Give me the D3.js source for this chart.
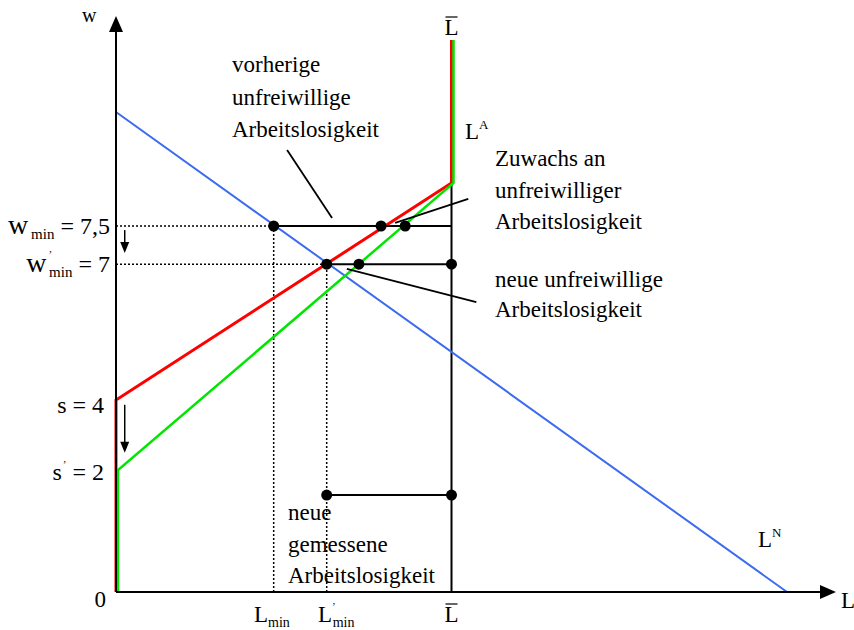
<!DOCTYPE html>
<html>
<head>
<meta charset="utf-8">
<script src="https://cdn.jsdelivr.net/npm/d3@7"></script>
<style>
  body { margin: 0; background: #fff; }
</style>
</head>
<body>
<div id="chart"></div>
<script>
// diagram units (schematic, not to scale of the labelled values)
var axisEnd = { x: 10.73, y: 12.0 }
var lnCurve = [[0, 10], [10, 0]]
var laOld = [[0, 0], [0, 4], [5, 8.52], [5, 11.5]]
var laNew = [[0.03, 0], [0.03, 2.54], [5.03, 8.52], [5.03, 11.5]]
var lBar = 5
var kinkW = 8.52
var lMin = 2.35
var lMinNew = 3.14
var wMin = 7.625
var wMinNew = 6.83
var wMeasured = 2.02

var gapSegments = [
  [lMin, lBar, wMin],
  [lMinNew, lBar, wMinNew],
  [lMinNew, lBar, wMeasured]
]
var dots = [
  [2.35, 7.625], [3.95, 7.625], [4.31, 7.625],
  [3.14, 6.83], [3.62, 6.83], [5, 6.83],
  [3.14, 2.02], [5, 2.02]
]
var leaders = [
  [[2.55, 9.21], [3.22, 7.79]],
  [[5.25, 8.19], [4.16, 7.69]],
  [[3.44, 6.73], [5.37, 6.04]]
]
var shiftArrows = [
  [0.13, 7.54, 7.06],
  [0.13, 3.9, 2.9]
]

var width = 854
var height = 630
var serif = 'Liberation Serif'

var x = d3.scaleLinear().domain([0, 10]).range([116, 787])
var y = d3.scaleLinear().domain([0, 10]).range([592, 112])

var svg = d3.select('#chart').append('svg')
  .attr('width', width)
  .attr('height', height)
  .attr('font-family', serif)
  .style('display', 'block')

var line = d3.line()
  .x(function (d) { return x(d[0]) })
  .y(function (d) { return y(d[1]) })

// dotted guides
var dotted = svg.append('g')
  .attr('stroke', '#000')
  .attr('stroke-width', 1.5)
  .attr('stroke-dasharray', '2,2')
  .attr('fill', 'none')
dotted.append('path').attr('d', line([[0, wMin], [lMin, wMin]]))
dotted.append('path').attr('d', line([[0, wMinNew], [lMinNew, wMinNew]]))
dotted.append('path').attr('d', line([[lMin, 0], [lMin, wMin]]))
dotted.append('path').attr('d', line([[lMinNew, 0], [lMinNew, wMinNew]]))

// L-bar vertical below the kink
svg.append('path')
  .attr('d', line([[lBar, 0], [lBar, kinkW]]))
  .attr('stroke', '#000')
  .attr('stroke-width', 2)

// curves
svg.append('path')
  .attr('d', line(lnCurve))
  .attr('stroke', '#3b6cf0')
  .attr('stroke-width', 2)
  .attr('fill', 'none')

svg.append('path')
  .attr('d', line(laOld))
  .attr('stroke', '#ff0000')
  .attr('stroke-width', 3)
  .attr('fill', 'none')

svg.append('path')
  .attr('d', line(laNew))
  .attr('stroke', '#00e600')
  .attr('stroke-width', 2.5)
  .attr('fill', 'none')

// unemployment segments
svg.append('g').selectAll('line')
  .data(gapSegments)
  .enter().append('line')
  .attr('x1', function (d) { return x(d[0]) })
  .attr('x2', function (d) { return x(d[1]) })
  .attr('y1', function (d) { return y(d[2]) })
  .attr('y2', function (d) { return y(d[2]) })
  .attr('stroke', '#000')
  .attr('stroke-width', 2)

// leader lines
svg.append('g').selectAll('path')
  .data(leaders)
  .enter().append('path')
  .attr('d', function (d) { return line(d) })
  .attr('stroke', '#000')
  .attr('stroke-width', 1.8)

svg.append('g').selectAll('circle')
  .data(dots)
  .enter().append('circle')
  .attr('cx', function (d) { return x(d[0]) })
  .attr('cy', function (d) { return y(d[1]) })
  .attr('r', 5.5)
  .attr('fill', '#000')

// axes with arrow heads
var x0 = x(0)
var y0 = y(0)
svg.append('line')
  .attr('x1', x0).attr('y1', y0)
  .attr('x2', x(axisEnd.x) - 14).attr('y2', y0)
  .attr('stroke', '#000').attr('stroke-width', 2)
svg.append('line')
  .attr('x1', x0).attr('y1', y0)
  .attr('x2', x0).attr('y2', y(axisEnd.y) + 14)
  .attr('stroke', '#000').attr('stroke-width', 2)

var xe = x(axisEnd.x)
var ye = y(axisEnd.y)
svg.append('path')
  .attr('d', 'M' + xe + ',' + y0 + 'L' + (xe - 16) + ',' + (y0 - 7) + 'L' + (xe - 16) + ',' + (y0 + 7) + 'Z')
  .attr('fill', '#000')
svg.append('path')
  .attr('d', 'M' + x0 + ',' + ye + 'L' + (x0 - 7) + ',' + (ye + 16) + 'L' + (x0 + 7) + ',' + (ye + 16) + 'Z')
  .attr('fill', '#000')

// small shift arrows
shiftArrows.forEach(function (a) {
  var ax = x(a[0])
  var top = y(a[1])
  var bot = y(a[2])
  svg.append('line')
    .attr('x1', ax).attr('y1', top)
    .attr('x2', ax).attr('y2', bot - 8)
    .attr('stroke', '#000').attr('stroke-width', 1.5)
  svg.append('path')
    .attr('d', 'M' + ax + ',' + bot + 'L' + (ax - 4.5) + ',' + (bot - 11) + 'L' + (ax + 4.5) + ',' + (bot - 11) + 'Z')
    .attr('fill', '#000')
})

// labels
function label (px, py, parts, anchor) {
  var t = svg.append('text')
    .attr('x', px)
    .attr('y', py)
    .attr('font-family', serif)
    .attr('font-size', 23)
    .attr('fill', '#000')
    .attr('text-anchor', anchor || 'start')
  parts.forEach(function (p) {
    var s = t.append('tspan').text(p.t)
    if (p.size) s.attr('font-size', p.size)
    if (p.dy) s.attr('dy', p.dy)
    if (p.dx) s.attr('dx', p.dx)
  })
  return t
}

function overline (t) {
  var b = t.node().getBBox()
  svg.append('line')
    .attr('x1', b.x + 1).attr('x2', b.x + b.width - 1)
    .attr('y1', b.y + 2).attr('y2', b.y + 2)
    .attr('stroke', '#000').attr('stroke-width', 1.2)
}

label(82, 22, [{ t: 'w', size: 20 }])
label(841, 608, [{ t: 'L' }])
label(106, 607, [{ t: '0' }], 'end')

label(110, 234, [
  { t: 'w', size: 28 }, { t: 'min', size: 15, dy: 5, dx: 3 }, { t: ' = 7,5', size: 24, dy: -5 }
], 'end')
label(110, 272, [
  { t: 'w', size: 28 }, { t: '\u2019', size: 11, dy: -14, dx: 2 }, { t: 'min', size: 15, dy: 19, dx: -3 }, { t: ' = 7', size: 24, dy: -5 }
], 'end')
label(104, 413, [{ t: 's = 4', size: 24 }], 'end')
label(104, 480, [
  { t: 's', size: 24 }, { t: '\u2019', size: 11, dy: -12, dx: 1 }, { t: ' = 2', size: 24, dy: 12 }
], 'end')

label(254, 622, [{ t: 'L' }, { t: 'min', size: 14, dy: 5 }])
label(318, 622, [
  { t: 'L' }, { t: '\u2019', size: 11, dy: -12, dx: 0 }, { t: 'min', size: 14, dy: 17, dx: -3 }
])
overline(label(x(lBar), 622, [{ t: 'L' }], 'middle'))
overline(label(x(lBar), 35, [{ t: 'L' }], 'middle'))

label(465, 139, [{ t: 'L' }, { t: 'A', size: 13, dy: -10 }])
label(758, 547, [{ t: 'L' }, { t: 'N', size: 13, dy: -10 }])

function block (px, py, lines, lh) {
  lines.forEach(function (s, i) {
    label(px, py + i * lh, [{ t: s }])
  })
}

block(232, 72, ['vorherige', 'unfreiwillige', 'Arbeitslosigkeit'], 32.5)
block(495, 166, ['Zuwachs an', 'unfreiwilliger', 'Arbeitslosigkeit'], 31.5)
block(495, 287, ['neue unfreiwillige', 'Arbeitslosigkeit'], 29.5)
block(288, 520, ['neue', 'gemessene', 'Arbeitslosigkeit'], 31.5)
</script>
</body>
</html>
